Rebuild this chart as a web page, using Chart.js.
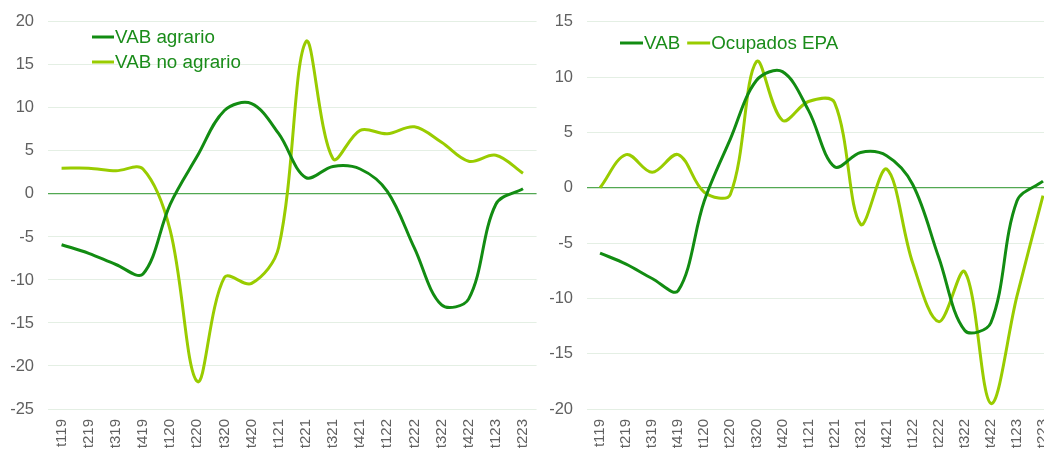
<!DOCTYPE html>
<html>
<head>
<meta charset="utf-8">
<script src="https://cdn.jsdelivr.net/npm/chart.js@4.4.1/dist/chart.umd.min.js"></script>
<style>
  html, body { margin: 0; padding: 0; background: #fff; overflow: hidden; }
  #wrap { position: relative; width: 1044px; height: 451px; overflow: hidden; }
  .box { position: absolute; top: -2px; height: 453px; }
  #left { left: 0; width: 551px; }
  #right { left: 540px; width: 531px; }
</style>
</head>
<body>
<div id="wrap">
  <div class="box" id="left"><canvas id="c1"></canvas></div>
  <div class="box" id="right"><canvas id="c2"></canvas></div>
</div>
<script>
// quarters t119 .. t223
var quarters = ['t119', 't219', 't319', 't419', 't120', 't220', 't320', 't420', 't121',
  't221', 't321', 't421', 't122', 't222', 't322', 't422', 't123', 't223'];

var vabAgrario = [-5.9, -6.9, -8.2, -9.3, -1.2, 4.4, 9.7, 10.5, 7.0,
  1.9, 3.2, 2.9, 0.3, -6.3, -12.9, -12.2, -1.2, 0.6];
var vabNoAgrario = [3.0, 3.0, 2.7, 2.9, -4.2, -21.8, -9.7, -10.4, -6.2,
  17.7, 4.1, 7.4, 7.0, 7.8, 6.0, 3.8, 4.5, 2.4];
var ocupadosEpa = [0.0, 3.0, 1.4, 3.0, -0.4, -0.6, 11.4, 6.1, 7.8,
  7.7, -3.3, 1.7, -6.8, -12.1, -7.6, -19.5, -9.8, -0.7];

var DARK = '#128c12';
var LIGHT = '#99cc00';
var TEXT_GREEN = '#1a8c1a';
var TICK_GREY = '#606060';
var ZERO_GREEN = '#52a852';
var FONT = '"Liberation Sans", Arial, sans-serif';

// legend drawn inside the plot, like the original
var inlineLegend = {
  id: 'inlineLegend',
  afterDraw: function (chart, args, opts) {
    if (!opts || !opts.x) return;
    var ctx = chart.ctx;
    var x = opts.x, y = opts.y;
    ctx.save();
    ctx.font = opts.fontSize + 'px ' + FONT;
    ctx.textBaseline = 'middle';
    chart.data.datasets.forEach(function (ds) {
      ctx.strokeStyle = ds.borderColor;
      ctx.lineWidth = 3;
      ctx.beginPath();
      ctx.moveTo(x, y);
      ctx.lineTo(x + opts.sample, y);
      ctx.stroke();
      ctx.fillStyle = TEXT_GREEN;
      ctx.fillText(ds.label, x + opts.sample + 1, y + 1);
      if (opts.vertical) {
        y += opts.rowHeight;
      } else {
        x += opts.sample + 1 + ctx.measureText(ds.label).width + opts.gap;
      }
    });
    ctx.restore();
  }
};

function dataset(label, values, color) {
  return {
    label: label,
    data: values,
    borderColor: color,
    backgroundColor: color,
    borderWidth: 3,
    pointRadius: 0,
    tension: 0.35,
    fill: false
  };
}

function makeChart(canvas, datasets, yMin, yMax, yWidth, legendOpts) {
  return new Chart(canvas.getContext('2d'), {
    type: 'line',
    data: { labels: quarters, datasets: datasets },
    plugins: [inlineLegend],
    options: {
      responsive: true,
      maintainAspectRatio: false,
      animation: false,
      layout: { padding: { top: 12, left: 0, right: 0, bottom: 0 } },
      plugins: {
        legend: { display: false },
        tooltip: { enabled: false },
        inlineLegend: legendOpts
      },
      scales: {
        x: {
          offset: true,
          grid: { display: false, drawTicks: false },
          border: { display: false },
          afterFit: function (s) { s.height = 42; },
          ticks: {
            autoSkip: false,
            minRotation: 90,
            maxRotation: 90,
            padding: 10,
            color: TICK_GREY,
            font: { family: FONT, size: 15 }
          }
        },
        y: {
          min: yMin,
          max: yMax,
          afterFit: function (s) { s.width = yWidth; },
          grid: {
            drawTicks: false,
            lineWidth: function (c) { return c.tick && c.tick.value === 0 ? 1.3 : 1; },
            color: function (c) { return c.tick && c.tick.value === 0 ? ZERO_GREEN : '#e4efe4'; }
          },
          border: { display: false },
          ticks: {
            stepSize: 5,
            padding: 14,
            color: TICK_GREY,
            font: { family: FONT, size: 16.5 }
          }
        }
      }
    }
  });
}

makeChart(document.getElementById('c1'), [
  dataset('VAB agrario', vabAgrario, DARK),
  dataset('VAB no agrario', vabNoAgrario, LIGHT)
], -25, 20, 48, { x: 92, y: 39, sample: 22, rowHeight: 25, vertical: true, fontSize: 18.8 });

makeChart(document.getElementById('c2'), [
  dataset('VAB', vabAgrario, DARK),
  dataset('Ocupados EPA', ocupadosEpa, LIGHT)
], -20, 15, 47, { x: 80, y: 45, sample: 23, gap: 7, vertical: false, fontSize: 18.8 });
</script>
</body>
</html>
